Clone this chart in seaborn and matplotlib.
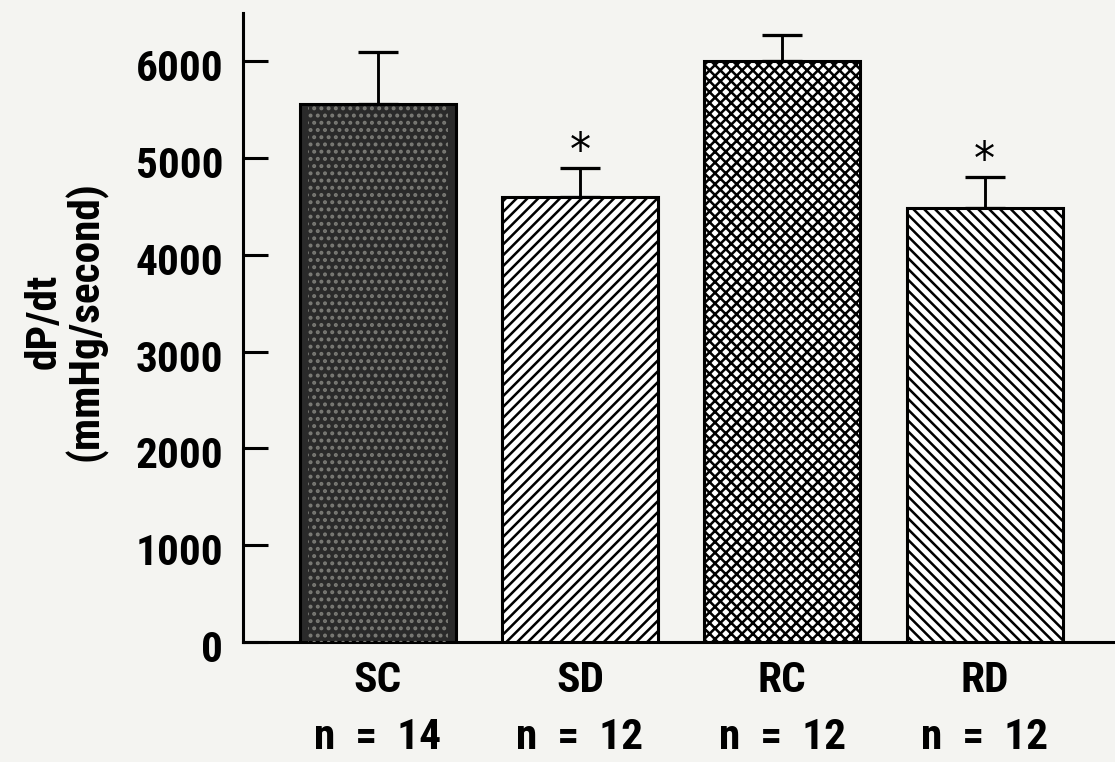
import matplotlib
matplotlib.use("Agg")
import matplotlib.pyplot as plt
import matplotlib.transforms as mtransforms
import seaborn as sns
import numpy as np
import pandas as pd

# Left-ventricular dP/dt by group (mean + SE)
groups = ["SC", "SD", "RC", "RD"]
n_per_group = [14, 12, 12, 12]
dpdt_mean = [5560, 4600, 6000, 4480]
dpdt_se = [540, 300, 270, 330]
significance = ["", "*", "", "*"]

DPI = 130
BG = "#f4f4f1"
FONT = ["Roboto Condensed", "Liberation Sans Narrow", "DejaVu Sans"]

sns.set_theme(style="ticks")
plt.rcParams["font.family"] = FONT
plt.rcParams["font.stretch"] = "condensed"
plt.rcParams["hatch.linewidth"] = 1.4
plt.rcParams["axes.linewidth"] = 1.7

fig = plt.figure(figsize=(1115 / DPI, 762 / DPI), dpi=DPI, facecolor=BG)
ax = fig.add_axes([0.2179, 0.1575, 0.7821, 0.8255])
ax.set_facecolor(BG)

df = pd.DataFrame({"group": groups, "dpdt": dpdt_mean})
sns.barplot(data=df, x="group", y="dpdt", order=groups, color="white",
            width=0.77, edgecolor="black", linewidth=1.7, ax=ax,
            errorbar=None, zorder=3)

fills = ["#2a2a2a", "white", "white", "white"]
hatches = [None, "////", "xxxx", "\\\\\\\\"]
for patch, fc, h in zip(ax.patches, fills, hatches):
    patch.set_facecolor(fc)
    patch.set_edgecolor("black")
    if h:
        patch.set_hatch(h)

# stippled texture on the first (dark) bar
ax.bar([0], [dpdt_mean[0]], width=0.77 * 0.9, bottom=0, fill=False,
       hatch="...", edgecolor="#7a7a75", linewidth=0, zorder=4)

# upper error bars only
xpos = np.arange(len(groups))
ax.errorbar(xpos, dpdt_mean, yerr=[np.zeros(len(groups)), dpdt_se],
            fmt="none", ecolor="black", elinewidth=1.6, capsize=11,
            capthick=1.8, zorder=2)

for i, (m, e, s) in enumerate(zip(dpdt_mean, dpdt_se, significance)):
    if s:
        ax.annotate(s, xy=(i, m + e), xytext=(0, -4), textcoords="offset points",
                    ha="center", va="bottom", fontsize=26,
                    family=["DejaVu Sans"], color="black")

ax.set_ylim(0, 6500)
ax.set_xlim(-0.666, 3.644)
ax.set_yticks(range(0, 7000, 1000))
ax.set_yticklabels([str(v) for v in range(0, 7000, 1000)],
                   fontsize=24, fontweight="bold", fontstretch="condensed")
ax.set_xticks(xpos)
ax.set_xticklabels([f"{g}\nn  =  {n}" for g, n in zip(groups, n_per_group)],
                   fontsize=24, fontweight="bold", fontstretch="condensed",
                   linespacing=1.5)

ax.tick_params(axis="y", direction="in", length=13.8, width=1.7, pad=11,
               colors="black")
ax.tick_params(axis="x", length=0, pad=10, colors="black")

# nudge y tick labels slightly below their ticks
shift = mtransforms.ScaledTranslation(0, -4 / DPI, fig.dpi_scale_trans)
for lbl in ax.get_yticklabels():
    lbl.set_transform(lbl.get_transform() + shift)

ax.set_xlabel("")
ax.set_ylabel("dP/dt\n(mmHg/second)", fontsize=24, fontweight="bold",
              fontstretch="condensed", linespacing=1.0, color="black")
ax.yaxis.set_label_coords(-0.155, 0.51)

sns.despine(ax=ax, top=True, right=True)
ax.spines["left"].set_color("black")
ax.spines["bottom"].set_color("black")

fig.savefig("out.png", dpi=DPI, facecolor=BG)
